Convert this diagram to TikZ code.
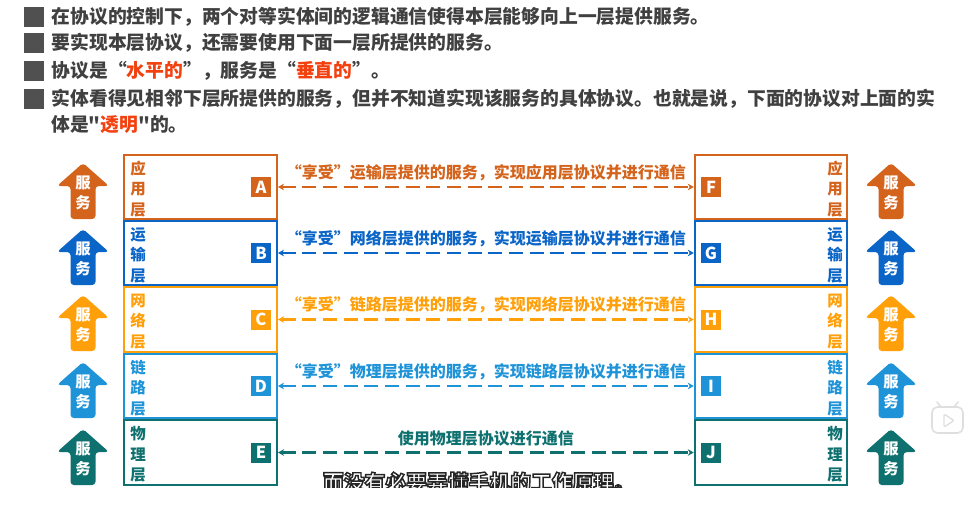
\documentclass[tikz,border=0pt]{standalone}
\usepackage{fontspec}
\setmainfont{Noto Sans CJK SC}
\newfontfamily\qfont{Noto Sans CJK SC}
\usetikzlibrary{arrows.meta,positioning}
\definecolor{appc}{HTML}{D4631C}
\definecolor{tranc}{HTML}{0B65C6}
\definecolor{netc}{HTML}{FFA00A}
\definecolor{linkc}{HTML}{1E93D8}
\definecolor{phyc}{HTML}{0E716F}
\definecolor{txtc}{HTML}{404040}
\definecolor{bulc}{HTML}{505050}
\definecolor{hotc}{HTML}{F2400F}
\begin{document}
\begin{tikzpicture}[x=0.75pt, y=-0.75pt,
  lyr/.style={draw=#1, line width=1.5pt, minimum width=114.4pt, minimum height=48.4pt, inner sep=0pt},
  lettr/.style={fill=#1, text=white, font=\bfseries\fontsize{12.4}{12.4}\selectfont, minimum size=15pt, inner sep=0pt},
  lname/.style={text=#1, font=\bfseries\fontsize{11.6}{15.4}\selectfont, align=center, inner sep=0pt},
  arr/.style={<->, >={Stealth[length=4.5pt,width=5pt]}, line width=2.2pt, dash pattern=on 10.5pt off 5pt, draw=#1}]
  \tikzset{bul/.style={fill=bulc, minimum size=15pt, inner sep=0pt}}
  \tikzset{txt/.style={text=txtc, font=\bfseries\fontsize{14.1}{16}\selectfont, inner sep=0pt, anchor=west}}
  \tikzset{lbl/.style={text=#1, font=\bfseries\fontsize{12}{14}\selectfont, inner sep=0pt, yshift=10.8pt}}
  \tikzset{sub/.style={font=\bfseries\fontsize{15.6}{18}\selectfont, inner sep=0pt}}
  \tikzset{svc/.pic={
    \fill[#1, rounded corners=2.5pt] (-12.5,0) -- (-12.5,-33) -- (-26,-33) -- (0,-56)
      -- (26,-33) -- (12.5,-33) -- (12.5,0) -- cycle;
    \node[text=white, font=\bfseries\fontsize{11.5}{15}\selectfont, align=center, inner sep=0pt]
      (-txt) at (0,-26) {服\\务};}}
  \useasboundingbox (0,0) rectangle (969,514);
  % bullet lines
  \node[bul] (b1) at (33.5,16.5) {};
  \node[txt, right=5.8pt of b1] (t1) {在协议的控制下，两个对等实体间的逻辑通信使得本层能够向上一层提供服务。};
  \node[bul] (b2) at (33.5,43) {};
  \node[txt, right=5.8pt of b2] (t2) {要实现本层协议，还需要使用下面一层所提供的服务。};
  \node[bul] (b3) at (33.5,71) {};
  \node[txt, right=5.8pt of b3] (t3) {协议是“\textcolor{hotc}{水平的}”，服务是“\textcolor{hotc}{垂直的}”。};
  \node[bul] (b4) at (33.5,98.5) {};
  \node[txt, right=5.8pt of b4] (t4) {实体看得见相邻下层所提供的服务，但并不知道实现该服务的具体协议。也就是说，下面的协议对上面的实};
  \node[txt] (t5) at (51,124.5) {体是{\qfont"}\textcolor{hotc}{透明}{\qfont"}的。};
  % app layer: A <-> F
  \node[lyr=appc] (appL) at (200.75,187) {};
  \node[lyr=appc] (appR) at (771,187) {};
  \node[lname=appc] (appLn) at (138,189) {应\\用\\层};
  \node[lname=appc] (appRn) at (835,189) {应\\用\\层};
  \node[lettr=appc] (A) at (261,187) {A};
  \node[lettr=appc] (F) at (711,187) {F};
  \draw[arr=appc] (appL.east) -- (appR.west) node[lbl=appc, midway] (tA) {“享受”运输层提供的服务，实现应用层协议并进行通信};
  \pic (lsA) at (83,219) {svc=appc};
  \pic (rsA) at (891,219) {svc=appc};
  % transport layer: B <-> G
  \node[lyr=tranc] (traL) at (200.75,253) {};
  \node[lyr=tranc] (traR) at (771,253) {};
  \node[lname=tranc] (traLn) at (138,255) {运\\输\\层};
  \node[lname=tranc] (traRn) at (835,255) {运\\输\\层};
  \node[lettr=tranc] (B) at (261,253) {B};
  \node[lettr=tranc] (G) at (711,253) {G};
  \draw[arr=tranc] (traL.east) -- (traR.west) node[lbl=tranc, midway] (tB) {“享受”网络层提供的服务，实现运输层协议并进行通信};
  \pic (lsB) at (83,285) {svc=tranc};
  \pic (rsB) at (891,285) {svc=tranc};
  % network layer: C <-> H
  \node[lyr=netc] (netL) at (200.75,319.5) {};
  \node[lyr=netc] (netR) at (771,319.5) {};
  \node[lname=netc] (netLn) at (138,321.5) {网\\络\\层};
  \node[lname=netc] (netRn) at (835,321.5) {网\\络\\层};
  \node[lettr=netc] (C) at (261,319.5) {C};
  \node[lettr=netc] (H) at (711,319.5) {H};
  \draw[arr=netc] (netL.east) -- (netR.west) node[lbl=netc, midway] (tC) {“享受”链路层提供的服务，实现网络层协议并进行通信};
  \pic (lsC) at (83,351) {svc=netc};
  \pic (rsC) at (891,351) {svc=netc};
  % link layer: D <-> I
  \node[lyr=linkc] (lnkL) at (200.75,386) {};
  \node[lyr=linkc] (lnkR) at (771,386) {};
  \node[lname=linkc] (lnkLn) at (138,388) {链\\路\\层};
  \node[lname=linkc] (lnkRn) at (835,388) {链\\路\\层};
  \node[lettr=linkc] (D) at (261,386) {D};
  \node[lettr=linkc] (I) at (711,386) {I};
  \draw[arr=linkc] (lnkL.east) -- (lnkR.west) node[lbl=linkc, midway] (tD) {“享受”物理层提供的服务，实现链路层协议并进行通信};
  \pic (lsD) at (83,418) {svc=linkc};
  \pic (rsD) at (891,418) {svc=linkc};
  % physical layer: E <-> J
  \node[lyr=phyc] (phyL) at (200.75,452.5) {};
  \node[lyr=phyc] (phyR) at (771,452.5) {};
  \node[lname=phyc] (phyLn) at (138,454.5) {物\\理\\层};
  \node[lname=phyc] (phyRn) at (835,454.5) {物\\理\\层};
  \node[lettr=phyc] (E) at (261,452.5) {E};
  \node[lettr=phyc] (J) at (711,452.5) {J};
  \draw[arr=phyc] (phyL.east) -- (phyR.west) node[lbl=phyc, midway] (tE) {使用物理层协议进行通信};
  \pic (lsE) at (83,485) {svc=phyc};
  \pic (rsE) at (891,485) {svc=phyc};
  % subtitle, cut at the bottom
  \begin{scope}
    \clip (0,0) rectangle (969,487);
    \node[sub, text=white] (subt) at (479,482)
      {\special{pdf:literal direct 2 Tr 1.1 w 0.15 G}而没有必要弄懂手机的工作原理。\special{pdf:literal direct 0 Tr}};
  \end{scope}
  % player icon
  \draw[gray!25, line width=1.2pt, fill=white, rounded corners=4pt] (932,407) rectangle (963,433);
  \draw[gray!25, line width=1.2pt, line cap=round] (941,407) -- (937,402) (954,407) -- (958,402);
  \draw[gray!25, line width=1pt, rounded corners=1pt] (944,414) -- (944,427) -- (954,420.5) -- cycle;
\end{tikzpicture}
\end{document}
